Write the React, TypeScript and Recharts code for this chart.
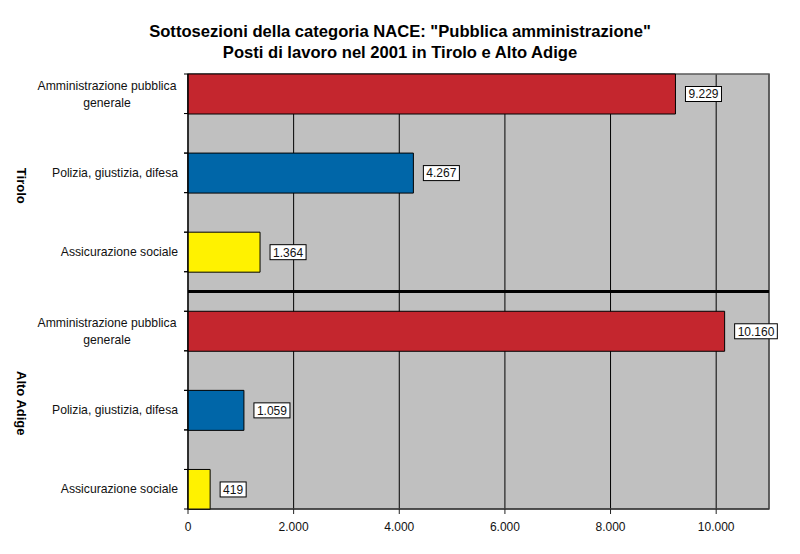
import React from "react";
import {
  BarChart,
  Bar,
  XAxis,
  YAxis,
  CartesianGrid,
  ReferenceLine,
  ReferenceArea,
  LabelList,
  Cell,
} from "recharts";

// categorie (righe vuote = spazi tra le barre, come nel grafico Excel originale)
const categorie = [
  "Amministrazione pubblica\ngenerale",
  "",
  "Polizia, giustizia, difesa",
  "",
  "Assicurazione sociale",
  "",
  "Amministrazione pubblica\ngenerale",
  "",
  "Polizia, giustizia, difesa",
  "",
  "Assicurazione sociale",
];
const posti = [9229, null, 4267, null, 1364, null, 10160, null, 1059, null, 419];
const gruppi = ["Tirolo", "Alto Adige"];
const xTicks = [0, 2000, 4000, 6000, 8000, 10000];
const xMax = 11000;

const titolo1 = 'Sottosezioni della categoria NACE: "Pubblica amministrazione"';
const titolo2 = "Posti di lavoro nel 2001 in Tirolo e Alto Adige";

const COLORI: Record<string, string> = {
  "Amministrazione pubblica\ngenerale": "#c4262e",
  "Polizia, giustizia, difesa": "#0066a8",
  "Assicurazione sociale": "#fff200",
};

const W = 800;
const H = 554;
const TOP = 74;
const BOTTOM = 45;
const LEFT = 188;
const RIGHT = 31;
const PLOT_H = H - TOP - BOTTOM;
const BAND = PLOT_H / categorie.length;
const SEP = Math.floor(categorie.length / 2);

const FONT = "'Liberation Sans', Arial, sans-serif";

const fmt = (v: number) => String(v).replace(/\B(?=(\d{3})+(?!\d))/g, ".");

const data = categorie.map((c, i) => ({ id: String(i), nome: c, valore: posti[i] }));

function CatTick(props: any) {
  const { x, y, payload } = props;
  const label = categorie[Number(payload.value)] || "";
  const lines = label ? label.split("\n") : [];
  return (
    <g>
      <line x1={x - 4} x2={x} y1={y - BAND / 2} y2={y - BAND / 2} stroke="#000" />
      <line x1={x - 4} x2={x} y1={y + BAND / 2} y2={y + BAND / 2} stroke="#000" />
      {lines.length === 1 && (
        <text x={x - 10} y={y} dy="0.35em" textAnchor="end" fontSize={12.2} fill="#111" fontFamily={FONT}>
          {lines[0]}
        </text>
      )}
      {lines.length > 1 &&
        lines.map((l: string, k: number) => (
          <text
            key={k}
            x={x - 81}
            y={y - 8 + k * 16.5}
            dy="0.35em"
            textAnchor="middle"
            fontSize={12.2}
            fill="#111"
            fontFamily={FONT}
          >
            {l}
          </text>
        ))}
    </g>
  );
}

function ValueLabel(props: any) {
  const { x, y, width, height, value } = props;
  if (value == null) return null;
  const s = fmt(Number(value));
  const dots = (s.match(/\./g) || []).length;
  const tw = (s.length - dots) * 6.67 + dots * 3.34 + 6;
  const bx = x + width + 10;
  const cy = y + height / 2;
  return (
    <g>
      <rect x={bx} y={cy - 7.5} width={tw} height={15} fill="#fff" stroke="#000" />
      <text x={bx + tw / 2} y={cy} dy="0.36em" textAnchor="middle" fontSize={12} fill="#111" fontFamily={FONT}>
        {s}
      </text>
    </g>
  );
}

export default function App() {
  return (
    <div style={{ position: "absolute", left: 0, top: 0, width: W, height: H, background: "#fff" }}>
      <BarChart
        width={W}
        height={H}
        data={data}
        layout="vertical"
        barCategoryGap={0}
        margin={{ top: TOP, right: RIGHT, bottom: BOTTOM - 30, left: 0 }}
      >
        <CartesianGrid horizontal={false} stroke="#000" fill="#c0c0c0" fillOpacity={1} />
        <XAxis
          type="number"
          domain={[0, xMax]}
          ticks={xTicks}
          tickFormatter={fmt}
          height={30}
          stroke="#222"
          tickSize={5}
          tickMargin={8}
          tick={{ fontSize: 12, fill: "#111", fontFamily: FONT }}
        />
        <YAxis
          type="category"
          dataKey="id"
          width={LEFT}
          interval={0}
          tickLine={false}
          tickSize={0}
          tickMargin={0}
          stroke="#000"
          tick={<CatTick />}
        />
        <Bar dataKey="valore" isAnimationActive={false} stroke="#000" strokeWidth={1}>
          {data.map((d, i) => (
            <Cell key={i} fill={COLORI[d.nome] || "none"} />
          ))}
          <LabelList dataKey="valore" content={<ValueLabel />} />
        </Bar>
        <ReferenceLine y={String(SEP)} stroke="#000" strokeWidth={3} />
        <ReferenceArea x1={0} x2={xMax} fill="none" stroke="#5a5a5a" strokeWidth={1.5} />
      </BarChart>
      <svg
        width={W}
        height={H}
        style={{ position: "absolute", left: 0, top: 0, pointerEvents: "none" }}
      >
        <text x={400} y={37} textAnchor="middle" fontSize={16.6} fontWeight="bold" fontFamily={FONT}>
          {titolo1}
        </text>
        <text x={400} y={58} textAnchor="middle" fontSize={16.6} fontWeight="bold" fontFamily={FONT}>
          {titolo2}
        </text>
        {gruppi.map((g, i) => {
          const cy = TOP + BAND * (SEP + 0.5) * (i + 0.5) + 3;
          return (
            <text
              key={g}
              x={0}
              y={0}
              transform={`translate(22 ${cy}) rotate(90)`}
              textAnchor="middle"
              dy="0.35em"
              fontSize={13}
              fontWeight="bold"
              fontFamily={FONT}
            >
              {g}
            </text>
          );
        })}
      </svg>
    </div>
  );
}
